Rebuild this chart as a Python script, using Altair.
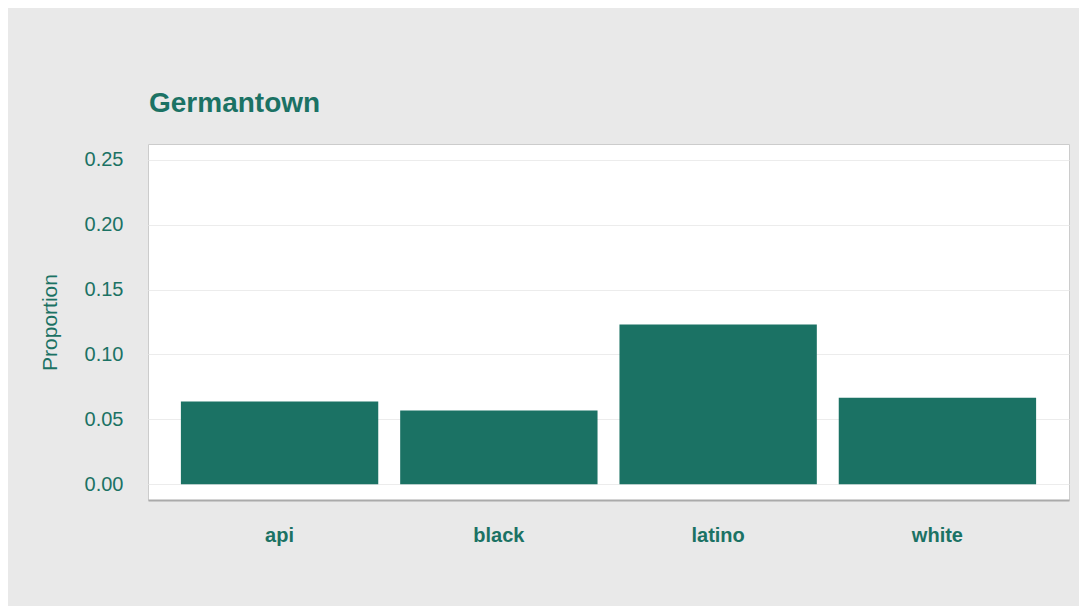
import altair as alt
import pandas as pd

groups = ["api", "black", "latino", "white"]
proportions = [0.0638, 0.0567, 0.123, 0.0667]
y_ticks = [0.0, 0.05, 0.10, 0.15, 0.20, 0.25]

df = pd.DataFrame({"group": groups, "proportion": proportions})

TEAL = "#1b7264"
FONT = "Liberation Sans"

chart = (
    alt.Chart(df)
    .mark_bar(color=TEAL)
    .encode(
        x=alt.X(
            "group:N",
            sort=groups,
            title=None,
            scale=alt.Scale(paddingInner=0.1, paddingOuter=0.15),
            axis=alt.Axis(
                labelAngle=0,
                labelFontWeight="bold",
                labelFontSize=20,
                labelColor=TEAL,
                labelFont=FONT,
                labelPadding=25,
                ticks=False,
                domain=True,
                domainColor="#aaaaaa",
                domainWidth=2,
                grid=False,
            ),
        ),
        y=alt.Y(
            "proportion:Q",
            title="Proportion",
            scale=alt.Scale(domain=[-0.0122, 0.2622], nice=False, zero=False),
            axis=alt.Axis(
                values=y_ticks,
                format=".2f",
                labelFontSize=20,
                labelColor=TEAL,
                labelFont=FONT,
                labelPadding=25,
                ticks=False,
                domain=False,
                gridColor="#ececec",
                titleFontSize=21,
                titleFontWeight="normal",
                titleColor=TEAL,
                titleFont=FONT,
                titlePadding=24,
            ),
        ),
    )
    .properties(
        width=921,
        height=356,
        title=alt.TitleParams(
            "Germantown",
            anchor="start",
            frame="group",
            fontSize=28,
            fontWeight="bold",
            color=TEAL,
            font=FONT,
            baseline="alphabetic",
            offset=4,
            dx=1,
        ),
        autosize=alt.AutoSizeParams(type="none"),
        padding={"left": 140, "top": 136, "right": 10, "bottom": 106},
        background="#e9e9e9",
    )
    .configure_view(stroke="#cccccc", fill="white")
)

chart.save("out.html", embed_options={"renderer": "svg", "actions": False})
